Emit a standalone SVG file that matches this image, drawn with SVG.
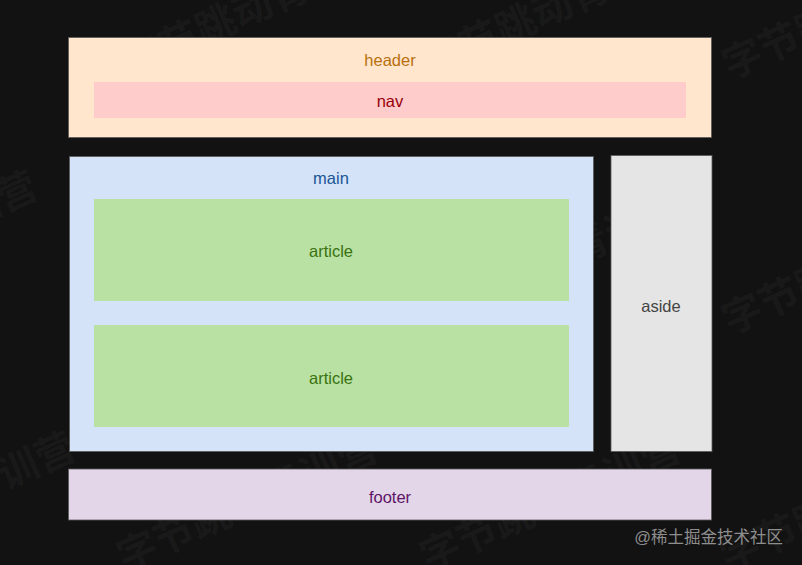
<svg xmlns="http://www.w3.org/2000/svg" width="802" height="565" viewBox="0 0 802 565">
<style>
.lbl{font-family:"Liberation Sans",Arial,sans-serif;font-size:16.5px;text-anchor:middle}
.wm{font-family:"Noto Sans CJK SC",sans-serif;font-size:40px;font-weight:bold;fill:#ffffff;fill-opacity:0.045}
.box{stroke:#5a5a5a;stroke-width:0.8}
</style>
<rect width="802" height="565" fill="#121212"/>
<g id="watermark">
<text class="wm" transform="translate(130,78) rotate(-24)">字节跳动青训营</text>
<text class="wm" transform="translate(430,78) rotate(-24)">字节跳动青训营</text>
<text class="wm" transform="translate(730,80) rotate(-24)">字节跳动青训营</text>
<text class="wm" transform="translate(-215,310) rotate(-24)">字节跳动青训营</text>
<text class="wm" transform="translate(430,330) rotate(-24)">字节跳动青训营</text>
<text class="wm" transform="translate(730,335) rotate(-24)">字节跳动青训营</text>
<text class="wm" transform="translate(-177,571) rotate(-24)">字节跳动青训营</text>
<text class="wm" transform="translate(125,572) rotate(-24)">字节跳动青训营</text>
<text class="wm" transform="translate(428,572) rotate(-24)">字节跳动青训营</text>
<text class="wm" transform="translate(728,572) rotate(-24)">字节跳动青训营</text>
</g>
<g id="header">
<rect class="box" x="68.5" y="37.5" width="643" height="100" fill="#ffe6cc"/>
<text class="lbl" x="390" y="66" fill="#b9700f">header</text>
</g>
<g id="nav">
<rect x="94" y="82" width="592" height="36" fill="#ffcccc"/>
<text class="lbl" x="390" y="107" fill="#99000a">nav</text>
</g>
<g id="main">
<rect class="box" x="69.5" y="156.5" width="524" height="295" fill="#d4e3f7"/>
<text class="lbl" x="331" y="184" fill="#1a5596">main</text>
</g>
<g id="article1">
<rect x="94" y="199" width="475" height="102" fill="#b9e1a4"/>
<text class="lbl" x="331" y="257" fill="#3a7310">article</text>
</g>
<g id="article2">
<rect x="94" y="325" width="475" height="102" fill="#b9e1a4"/>
<text class="lbl" x="331" y="384" fill="#3a7310">article</text>
</g>
<g id="aside">
<rect class="box" x="611" y="155.5" width="101" height="296" fill="#e5e5e5"/>
<text class="lbl" x="661" y="312" fill="#444444">aside</text>
</g>
<g id="footer">
<rect class="box" x="68.5" y="469" width="643" height="51" fill="#e2d6e8"/>
<text class="lbl" x="390" y="503" fill="#5e1466">footer</text>
</g>
<g id="connectors"></g>
<text x="783" y="543" text-anchor="end" style="font-family:'Liberation Sans','Noto Sans CJK SC',sans-serif;font-size:16.5px" fill="#8e8e8e">@稀土掘金技术社区</text>
</svg>
